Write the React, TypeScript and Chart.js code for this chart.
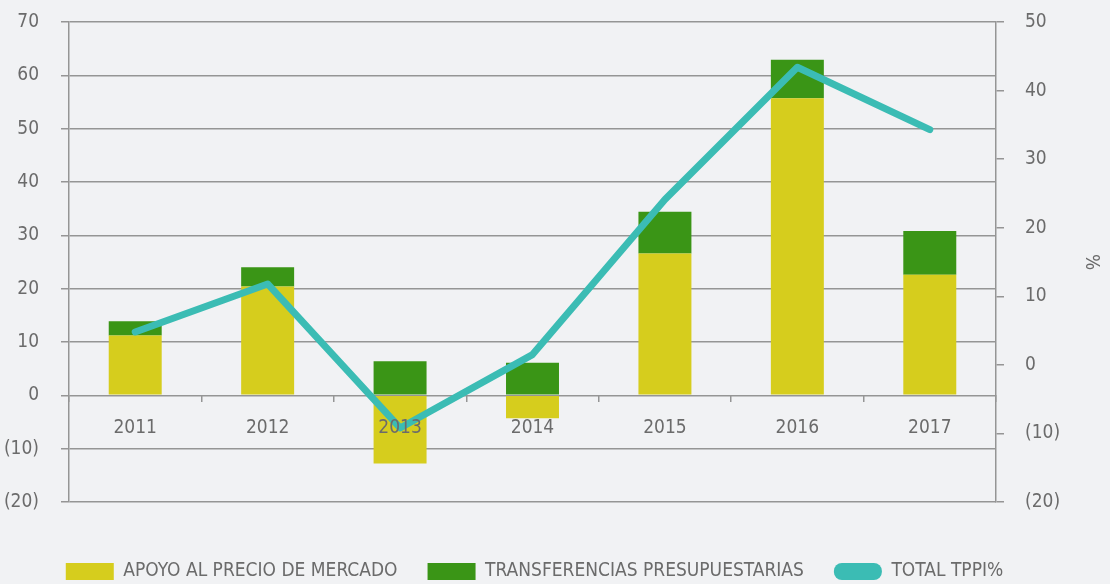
import React, { useEffect, useRef } from "react";
import { Chart, registerables } from "chart.js";

Chart.register(...registerables);

const years = ["2011", "2012", "2013", "2014", "2015", "2016", "2017"];
const apoyoPrecioMercado = [11.2, 20.4, -12.8, -4.3, 26.6, 55.7, 22.6];
const transferenciasPresupuestarias = [2.7, 3.6, 6.4, 6.1, 7.8, 7.2, 8.2];
const totalTppiPct = [4.8, 11.8, -9.2, 1.5, 24.1, 43.4, 34.3];
const seriesNames = ["APOYO AL PRECIO DE MERCADO", "TRANSFERENCIAS PRESUPUESTARIAS", "TOTAL TPPI%"];
const leftRange = [-20, 70];
const rightRange = [-20, 50];
const rightTitle = "%";

const FONT = "'DejaVu Sans Condensed', 'Liberation Sans Narrow', sans-serif";
const FS = 19;
const TEXT = "#6b6b6b";
const GRID = "#959595";
const BG = "#f1f2f4";
const YELLOW = "#d6cd1d";
const GREEN = "#3a9516";
const TEAL = "#3bbcb4";

const fmt = (v: number) => (v < 0 ? `(${-v})` : `${v}`);

const noPad = (s: any) => {
  s.paddingTop = 0;
  s.paddingBottom = 0;
};

export default function App() {
  const ref = useRef<HTMLCanvasElement | null>(null);
  useEffect(() => {
    document.body.style.margin = "0";
    document.body.style.background = BG;
    const bgPlugin = {
      id: "bg",
      beforeDraw(chart: any) {
        const c = chart.ctx;
        c.save();
        c.fillStyle = BG;
        c.fillRect(0, 0, chart.width, chart.height);
        c.restore();
      },
    };
    const chart = new Chart(ref.current as HTMLCanvasElement, {
      type: "bar",
      data: {
        labels: years,
        datasets: [
          {
            type: "bar",
            label: seriesNames[0],
            data: apoyoPrecioMercado,
            backgroundColor: YELLOW,
            xAxisID: "x",
            yAxisID: "y",
            stack: "s",
            order: 1,
            categoryPercentage: 0.8,
            barPercentage: 0.5,
          },
          {
            type: "bar",
            label: seriesNames[1],
            data: transferenciasPresupuestarias,
            backgroundColor: GREEN,
            xAxisID: "x",
            yAxisID: "y",
            stack: "s",
            order: 1,
            categoryPercentage: 0.8,
            barPercentage: 0.5,
          },
          {
            type: "line",
            label: seriesNames[2],
            data: totalTppiPct,
            borderColor: TEAL,
            backgroundColor: TEAL,
            borderWidth: 7,
            pointRadius: 0,
            tension: 0,
            borderCapStyle: "round",
            borderJoinStyle: "round",
            xAxisID: "x",
            yAxisID: "y1",
            order: 0,
          },
        ],
      } as any,
      options: {
        responsive: false,
        animation: false,
        layout: { padding: { top: 22, left: 0, right: 41, bottom: -7 } },
        plugins: {
          tooltip: { enabled: false },
          legend: {
            position: "bottom",
            align: "center",
            labels: {
              color: TEXT,
              font: { family: FONT, size: FS },
              boxWidth: 48,
              boxHeight: 17,
              padding: 30,
              sort: (a: any, b: any) => a.datasetIndex - b.datasetIndex,
              generateLabels: (chart: any) => {
                const items = (Chart.defaults as any).plugins.legend.labels.generateLabels(chart);
                return items.map((it: any) => {
                  const ds = chart.data.datasets[it.datasetIndex];
                  const isLine = ds.type === "line";
                  return {
                    ...it,
                    fillStyle: isLine ? TEAL : ds.backgroundColor,
                    strokeStyle: "transparent",
                    lineWidth: 0,
                    borderRadius: isLine ? 8 : 0,
                  };
                });
              },
            },
          },
        },
        scales: {
          x: {
            type: "category",
            stacked: true,
            position: { y: 0 } as any,
            afterFit: (s: any) => {
              s.height = 0;
              s.paddingLeft = 0;
              s.paddingRight = 0;
            },
            grid: {
              offset: true,
              drawOnChartArea: false,
              drawTicks: true,
              tickLength: 7,
              color: GRID,
              lineWidth: 1.5,
            },
            border: { display: false },
            ticks: { z: 1, color: TEXT, font: { family: FONT, size: FS }, padding: 14, maxRotation: 0 },
          },
          pad: {
            type: "linear",
            position: "bottom",
            display: true,
            grid: { display: false, drawTicks: false },
            border: { display: false },
            ticks: { display: false },
            afterFit: (s: any) => {
              s.height = 30;
              s.paddingLeft = 0;
              s.paddingRight = 0;
            },
          },
          y: {
            position: "left",
            stacked: true,
            min: leftRange[0],
            max: leftRange[1],
            afterFit: (s: any) => {
              s.width = 69;
              noPad(s);
            },
            grid: { color: GRID, lineWidth: 1.5, tickLength: 8 },
            border: { display: true, color: GRID, width: 1.5 },
            ticks: {
              stepSize: 10,
              color: TEXT,
              font: { family: FONT, size: FS },
              padding: 22,
              callback: (v: any) => fmt(Number(v)),
            },
          },
          y1: {
            position: "right",
            min: rightRange[0],
            max: rightRange[1],
            afterFit: (s: any) => {
              s.width = 73;
              noPad(s);
            },
            grid: { drawOnChartArea: false, color: GRID, lineWidth: 1.5, tickLength: 8 },
            border: { display: true, color: GRID, width: 1.5 },
            title: {
              display: true,
              text: rightTitle,
              color: TEXT,
              font: { family: FONT, size: FS },
              padding: { top: -33, bottom: 4 },
            },
            ticks: {
              stepSize: 10,
              color: TEXT,
              font: { family: FONT, size: FS },
              padding: 21,
              callback: (v: any) => fmt(Number(v)),
            },
          },
        },
      } as any,
      plugins: [bgPlugin],
    });
    return () => chart.destroy();
  }, []);
  return (
    <div style={{ width: 1110, height: 584, background: BG }}>
      <canvas ref={ref} width={1110} height={584} style={{ display: "block" }} />
    </div>
  );
}
